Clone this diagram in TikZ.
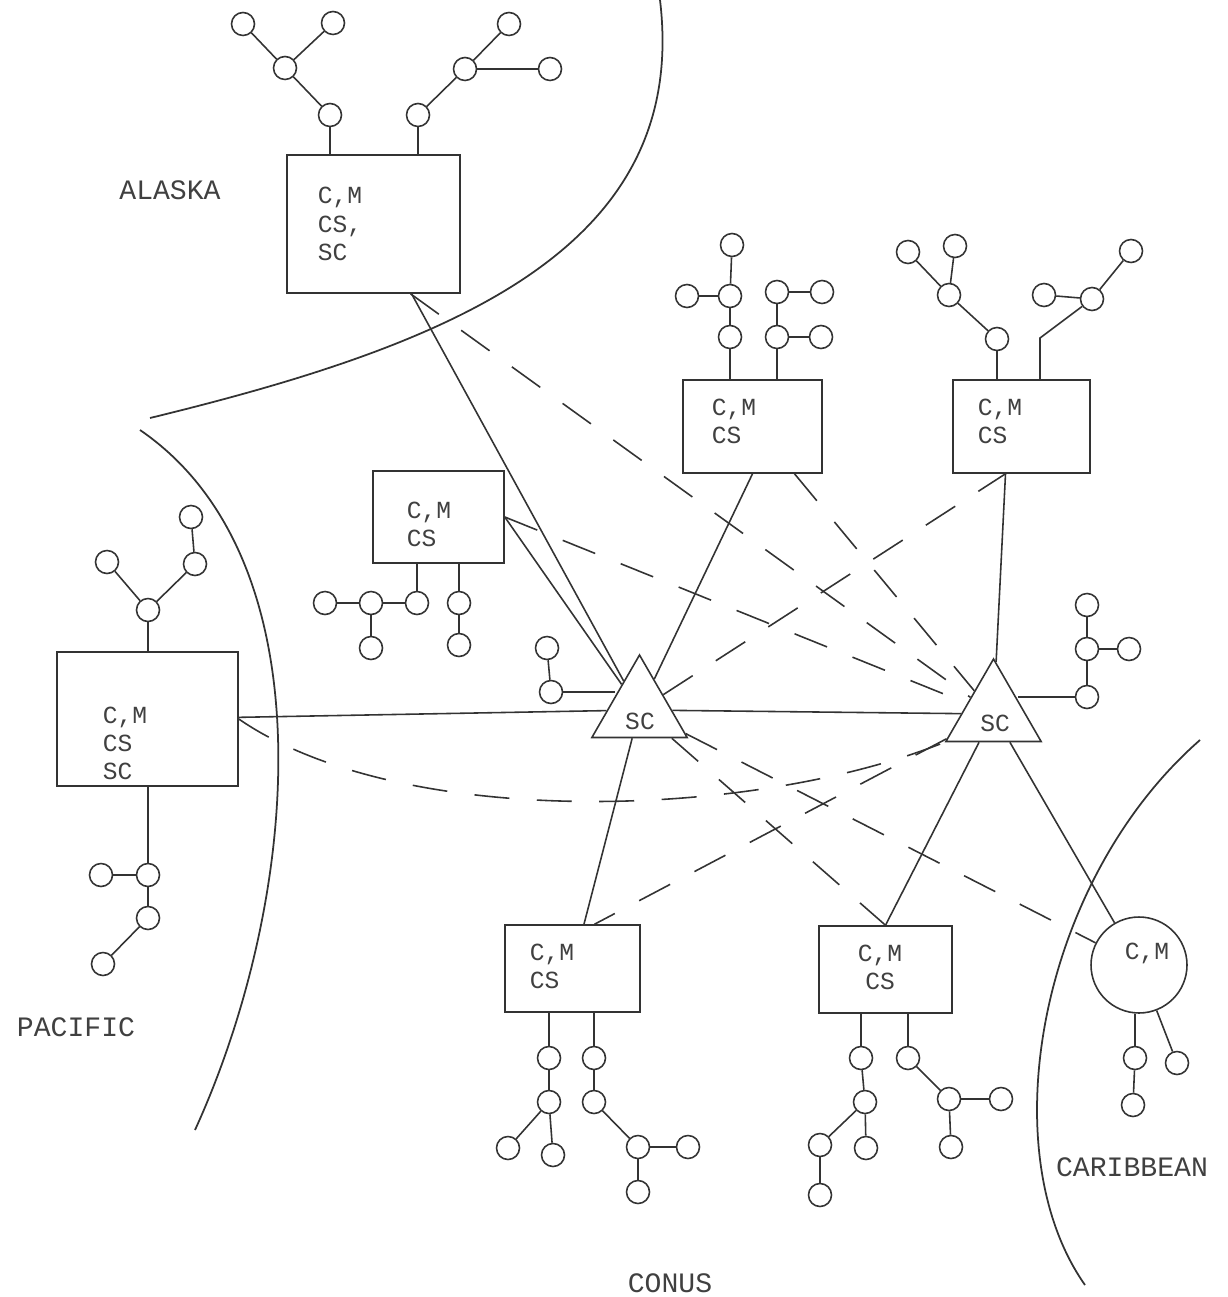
\documentclass[tikz,border=0pt]{standalone}
\usepackage{fontspec}
\setmonofont{Liberation Mono}
\usetikzlibrary{shapes.geometric,calc}

\tikzset{
  stn/.style={draw, circle, minimum size=0.46cm, inner sep=0pt},
  site/.style={draw, inner sep=0pt},
  tag/.style={font=\fontsize{14}{16}\selectfont\ttfamily, text=black!75, align=left, inner sep=0pt},
  region/.style={font=\fontsize{16}{18}\selectfont\ttfamily, text=black!75, inner sep=0pt},
  hub/.style={draw, regular polygon, regular polygon sides=3, minimum size=2.2cm, inner sep=0pt},
  trunk/.style={dash pattern=on 0.7cm off 0.55cm},
}

\begin{document}
\begin{tikzpicture}[x=0.02cm, y=-0.02cm, line width=0.9pt, color=black!80]
      \useasboundingbox (0,0) rectangle (1227,1297);
      % region borders
      \draw[line width=1pt] (660,0) .. controls (690,250) and (450,345) .. (150,418);
      \draw[line width=1pt] (140,430) .. controls (330,560) and (300,900) .. (195,1130);
      \draw[line width=1pt] (1200,740) .. controls (1040,880) and (990,1150) .. (1085,1285);
      \node[region] (lalaska) at (170,190) {ALASKA};
      \node[region] (lpacific) at (76,1027) {PACIFIC};
      \node[region] (lcarib) at (1132,1167) {CARIBBEAN};
      \node[region] (lconus) at (670,1283) {CONUS};
      % sites
      \node[site, minimum width=3.46cm, minimum height=2.76cm] (alaska) at (373.5,224) {};
      \node[tag] (alaskatag) at (340,224) {C,M\\CS,\\SC};
      \node[site, minimum width=3.62cm, minimum height=2.68cm] (pac) at (147.5,719) {};
      \node[tag] (pactag) at (125,743) {C,M\\CS\\SC};
      \node[site, minimum width=2.62cm, minimum height=1.84cm] (westcs) at (438.5,517) {};
      \node[tag] (westtag) at (429,524) {C,M\\CS};
      \node[site, minimum width=2.78cm, minimum height=1.86cm] (northcs) at (752.5,426.5) {};
      \node[tag] (northtag) at (734,421) {C,M\\CS};
      \node[site, minimum width=2.74cm, minimum height=1.86cm] (eastcs) at (1021.5,426.5) {};
      \node[tag] (easttag) at (1000,421) {C,M\\CS};
      \node[site, minimum width=2.70cm, minimum height=1.74cm] (conusa) at (572.5,968.5) {};
      \node[tag] (conusatag) at (552,966) {C,M\\CS};
      \node[site, minimum width=2.66cm, minimum height=1.74cm] (conusb) at (885.5,969.5) {};
      \node[tag, align=center] (conusbtag) at (880,967) {C,M\\CS};
      \node[draw, circle, minimum size=1.92cm, inner sep=0pt] (carib) at (1139,965) {};
      \node[tag] (caribtag) at (1147,953) {C,M};
      \node[hub] (scw) at (639.5,710) {};
      \node[tag] (scwtag) at (640,721) {SC};
      \node[hub] (sce) at (993.5,714) {};
      \node[tag] (scetag) at (995,723) {SC};
      % stations
      \foreach \n/\x/\y in {a1/330/115, a2/285/68, a3/243/24, a4/333/23, a5/418/115, a6/465/69, a7/509/24, a8/550/69,
        t1/730/337, t2/730/296, t3/732/245, t4/687/296, t5/777/337, t6/777/292, t7/822/292, t8/821/337,
        r1/997/339, r2/949/295, r3/908/252, r4/955/246, r5/1092/299, r6/1131/251, r7/1044/295,
        m1/417/603, m2/371/603, m3/325/603, m4/371/648, m5/459/603, m6/459/645,
        p1/148/610, p2/107/562, p3/195/564, p4/191/517, p5/148/875, p6/101/875, p7/148/918, p8/103/964,
        s1/551/692, s2/547/648, q1/1087/697, q2/1087/649, q3/1087/605, q4/1129/649,
        b1/549/1058, b2/549/1102, b3/508/1148, b4/553/1155, b5/594/1058, b6/594/1102, b7/638/1147, b8/688/1147, b9/638/1192,
        c1/861/1058, c2/865/1102, c3/820/1145, c4/866/1148, c5/820/1195, c6/908/1058, c7/949/1099, c8/1001/1099, c9/951/1147,
        k1/1135/1058, k2/1133/1105, k3/1177/1063}
        \node[stn] (\n) at (\x,\y) {};
      \foreach \p/\q in {a1/a2, a2/a3, a2/a4, a5/a6, a6/a7, a6/a8, t1/t2, t2/t3, t2/t4, t5/t6, t6/t7, t5/t8,
        r1/r2, r2/r3, r2/r4, r5/r6, r5/r7, m1/m2, m2/m3, m2/m4, m5/m6, p1/p2, p1/p3, p3/p4, p5/p6, p5/p7, p7/p8,
        s1/s2, q1/q2, q2/q3, q2/q4, b1/b2, b2/b3, b2/b4, b5/b6, b6/b7, b7/b8, b7/b9,
        c1/c2, c2/c3, c2/c4, c3/c5, c6/c7, c7/c8, c7/c9, k1/k2, k3/carib}
        \draw (\p) -- (\q);
      \foreach \n/\s in {a1/alaska.north, a5/alaska.north, t1/northcs.north, t5/northcs.north, r1/eastcs.north,
        m1/westcs.south, m5/westcs.south, p1/pac.north, p5/pac.south, b1/conusa.south, b5/conusa.south,
        c1/conusb.south, c6/conusb.south, k1/carib.south}
        \draw (\n) -- (\n |- \s);
      \coordinate (rbend) at (1040,338);
      \draw (r5) -- (rbend) -- (rbend |- eastcs.north);
      \draw (s1) -- (s1 -| scw.side 1);
      \draw (q1) -- (q1 -| sce.side 3);
      % solid links
      \coordinate (eastfoot) at ($(eastcs.south)+(-16,0)$);
      \draw (alaska) -- (scw);
      \draw (westcs.east) -- (scw);
      \draw (northcs.south) -- (scw);
      \draw (eastfoot) -- (sce);
      \draw (pac) -- (scw) -- (sce);
      \draw (scw) -- (conusa);
      \draw (sce) -- (conusb.north);
      \draw (sce) -- (carib);
      % dashed links
      \draw[trunk] ($(alaska.south)+(37,0)$) -- (sce);
      \draw[trunk] (westcs.east) -- (sce);
      \draw[trunk] ($(northcs.south)+(42,0)$) -- (sce);
      \draw[trunk] (scw) -- (eastfoot);
      \draw[trunk] (pac.east) .. controls (400,830) and (750,820) .. (sce.corner 2);
      \draw[trunk] (scw) -- (conusb.north);
      \draw[trunk] (scw) -- (carib);
      \draw[trunk] (sce) -- ($(conusa.north)+(22,0)$);
\end{tikzpicture}
\end{document}
